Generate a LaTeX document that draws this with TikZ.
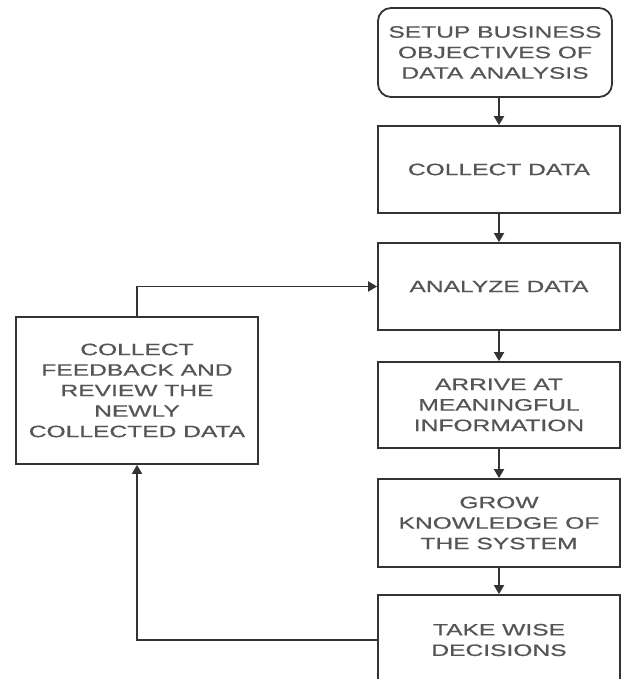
\documentclass[tikz,border=0pt]{standalone}
\usepackage{fontspec}
\setmainfont[FakeStretch=1.49,FakeBold=0.6]{Liberation Sans}
\usetikzlibrary{arrows.meta}
\definecolor{linegray}{HTML}{333333}
\definecolor{textgray}{HTML}{555555}
\tikzset{
  stepbox/.style={draw=linegray, line width=1.8pt, fill=white,
    minimum width=242pt, inner sep=0pt, align=center,
    text=textgray, font=\fontsize{16.5}{20.5}\selectfont},
  flow/.style={draw=linegray, line width=1.8pt,
    -{Triangle[width=10pt,length=9pt]}}
}
\begin{document}
\begin{tikzpicture}[x=1pt,y=-1pt]
  \useasboundingbox (0,0) rectangle (622,679);
  \clip (0,0) rectangle (622,679);
  \fill[white] (0,0) rectangle (622,679);

  % main column of steps
  \node[stepbox, rounded corners=13pt, minimum width=234pt, minimum height=89pt]
    (setup) at (495,52.5) {SETUP BUSINESS\\OBJECTIVES OF\\DATA ANALYSIS};
  \node[stepbox, minimum height=87pt] (collect) at (499,169.5) {COLLECT DATA};
  \node[stepbox, minimum height=87pt] (analyze) at (499,286.5) {ANALYZE DATA};
  \node[stepbox, minimum height=86pt] (arrive) at (499,405)
    {ARRIVE AT\\MEANINGFUL\\INFORMATION};
  \node[stepbox, minimum height=88pt] (grow) at (499,523)
    {GROW\\KNOWLEDGE OF\\THE SYSTEM};
  \node[stepbox, minimum height=90pt] (take) at (499,640)
    {TAKE WISE\\DECISIONS};

  % feedback step on the left
  \node[stepbox, minimum height=147pt] (feedback) at (137,390.5)
    {COLLECT\\FEEDBACK AND\\REVIEW THE\\NEWLY\\COLLECTED DATA};

  % connectors
  \draw[flow] (setup.south -| collect.north) -- (collect.north);
  \draw[flow] (collect) -- (analyze);
  \draw[flow] (analyze) -- (arrive);
  \draw[flow] (arrive) -- (grow);
  \draw[flow] (grow) -- (take);
  \draw[flow] (take.west) -| (feedback.south);
  \draw[flow] (feedback.north) |- (analyze.west);
\end{tikzpicture}
\end{document}
